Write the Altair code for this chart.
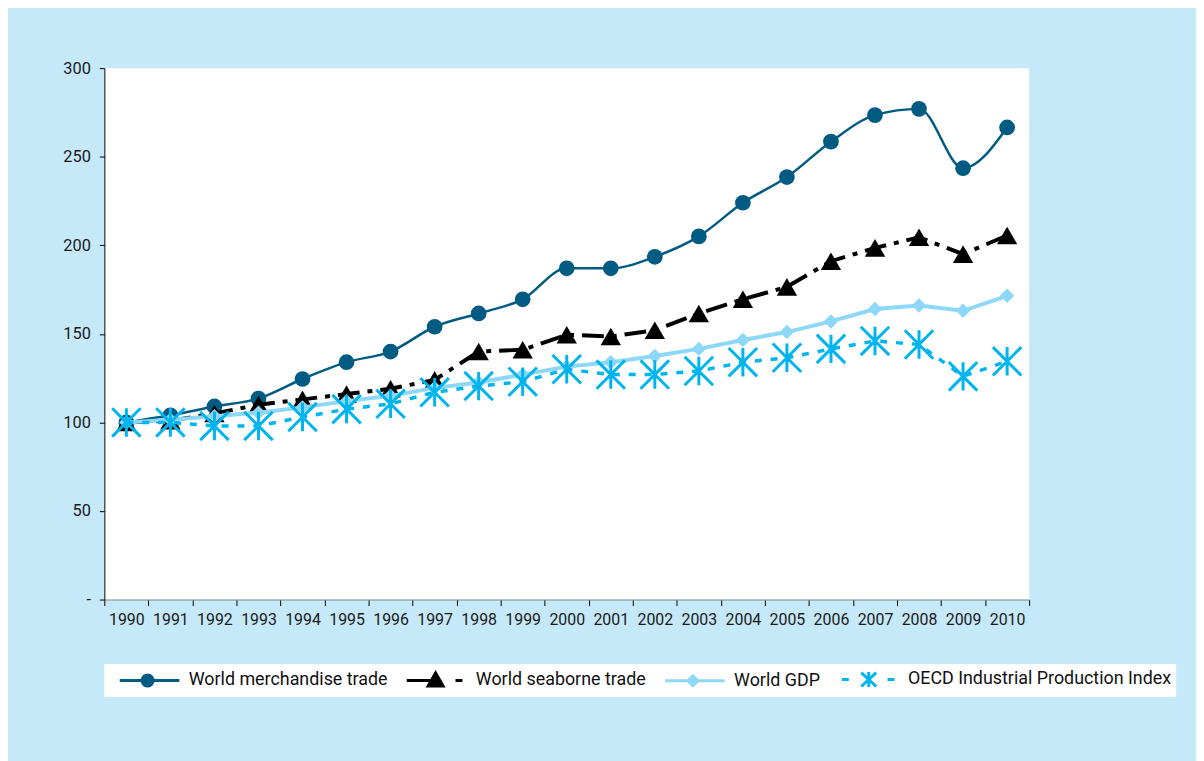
import math
import altair as alt
import pandas as pd

# ---------------- data ----------------
years = [str(y) for y in range(1990, 2011)]
series = [
    "World merchandise trade",
    "World seaborne trade",
    "World GDP",
    "OECD Industrial Production Index",
]
merchandise = [100, 104, 109, 113.5, 124.5, 134, 140, 154, 161.5, 169.5, 187,
               187, 193.5, 205, 224, 238.5, 258.5, 273.5, 277, 243.5, 266.5]
seaborne = [100, 101, 105, 110, 113, 116, 119, 124, 140, 141, 149.5,
            148.5, 152, 161.5, 169.5, 176.5, 191, 198.5, 204.5, 195, 205.5]
gdp = [100, 101.5, 103.5, 105.5, 108.5, 112, 115, 119.5, 122.5, 127, 131.5,
       134, 137.5, 141.5, 146.5, 151, 157, 164, 166, 163, 171.5]
oecd = [100, 100, 98, 98, 103, 107.5, 110.5, 117, 120.5, 123, 130,
        127, 127, 129, 134, 136.5, 141.5, 146, 144, 126, 134.5]
y_ticks = [0, 50, 100, 150, 200, 250, 300]

colors = ["#005B82", "#000000", "#8DD7F7", "#00B4EF"]

rows = []
for name, vals in zip(series, [merchandise, seaborne, gdp, oecd]):
    for yr, v in zip(years, vals):
        rows.append({"year": yr, "value": v, "series": name})
df = pd.DataFrame(rows)

FONT = "Roboto"
BG = "#C6E9F9"

# ---------------- marker / legend symbol paths ----------------
ASTERISK = "M0,-1L0,1M-1,-1L1,1M-1,1L1,-1"


def poly(cx, cy, r, n=20):
    pts = []
    for i in range(n):
        a = 2 * math.pi * i / n
        pts.append(f"{cx + r * math.cos(a):.3f},{cy + r * math.sin(a):.3f}")
    return "M" + "L".join(pts) + "Z"


leg_merch = "M-3,0L3,0" + poly(-0.2, 0, 0.55)
leg_sea = ("M-3,0L-0.1,0"
           "M-0.1,-0.75L-0.85,0.55L0.65,0.55Z"
           "M1.9,0L2.6,0")
leg_gdp = "M-3,0L3,0M-0.2,-0.5L0.3,0L-0.2,0.5L-0.7,0Z"
leg_oecd = ("M-2.7,0L-2.0,0M1.9,0L2.6,0"
            "M0,-0.75L0,0.75M-0.75,-0.7L0.75,0.7M-0.75,0.7L0.75,-0.7")
legend_paths = [leg_merch, leg_sea, leg_gdp, leg_oecd]

# ---------------- encodings ----------------
x_enc = alt.X(
    "year:O",
    scale=alt.Scale(type="band", paddingInner=0, paddingOuter=0),
    axis=alt.Axis(
        title=None, labelAngle=0, tickBand="extent", labelFont=FONT,
        labelFontSize=16, labelColor="#1a1a1a", tickColor="#000000",
        domainColor="#8a8a8a", tickSize=6, labelPadding=6, grid=False,
    ),
)
y_enc = alt.Y(
    "value:Q",
    scale=alt.Scale(domain=[0, 300], nice=False),
    axis=alt.Axis(
        title=None, values=y_ticks, grid=False, labelFont=FONT,
        labelFontSize=16.5, labelColor="#1a1a1a", tickColor="#000000",
        domainColor="#000000", tickSize=5, labelPadding=9,
        labelExpr="datum.value == 0 ? '-' : datum.label",
    ),
)

styles = [
    dict(line=dict(strokeWidth=2.5, interpolate="monotone"),
         point=dict(shape="circle", size=250, filled=True, opacity=1)),
    dict(line=dict(strokeWidth=4, strokeDash=[22, 8, 5, 8]),
         point=dict(shape="triangle-up", size=420, filled=True, opacity=1)),
    dict(line=dict(strokeWidth=4),
         point=dict(shape="diamond", size=210, filled=True, opacity=1)),
    dict(line=dict(strokeWidth=3.5, strokeDash=[7, 9]),
         point=dict(shape=ASTERISK, size=820, filled=False, strokeWidth=3,
                    opacity=1)),
]

base = alt.Chart(df)
layers = []
for name, col, st in zip(series, colors, styles):
    sub = base.transform_filter(alt.datum.series == name)
    layers.append(sub.mark_line(color=col, **st["line"]).encode(x=x_enc, y=y_enc))
    layers.append(sub.mark_point(color=col, **st["point"]).encode(x=x_enc, y=y_enc))

leg = alt.Legend(
    title=None, orient="none", legendX=0, legendY=600, direction="horizontal",
    columns=4, fillColor="white", padding=4, labelFont=FONT,
    labelFontSize=18, labelColor="#111111", symbolSize=400,
    symbolStrokeWidth=3, symbolOffset=30, labelOffset=28, columnPadding=7,
    symbolOpacity=1, labelLimit=500,
)
legend_layer = base.mark_point(opacity=0, size=400, filled=True).encode(
    x=x_enc,
    y=y_enc,
    fill=alt.Fill("series:N", scale=alt.Scale(domain=series, range=colors), legend=leg),
    stroke=alt.Stroke("series:N", scale=alt.Scale(domain=series, range=colors), legend=leg),
    shape=alt.Shape("series:N", scale=alt.Scale(domain=series, range=legend_paths), legend=leg),
)
layers.append(legend_layer)

chart = (
    alt.layer(*layers)
    .properties(
        width=931, height=535, background=BG, autosize="none",
        padding={"left": 97, "top": 58, "right": 168, "bottom": 160},
    )
    .configure_view(fill="white", strokeWidth=0)
)

chart.save("out.html", embed_options={"renderer": "svg", "actions": False})
